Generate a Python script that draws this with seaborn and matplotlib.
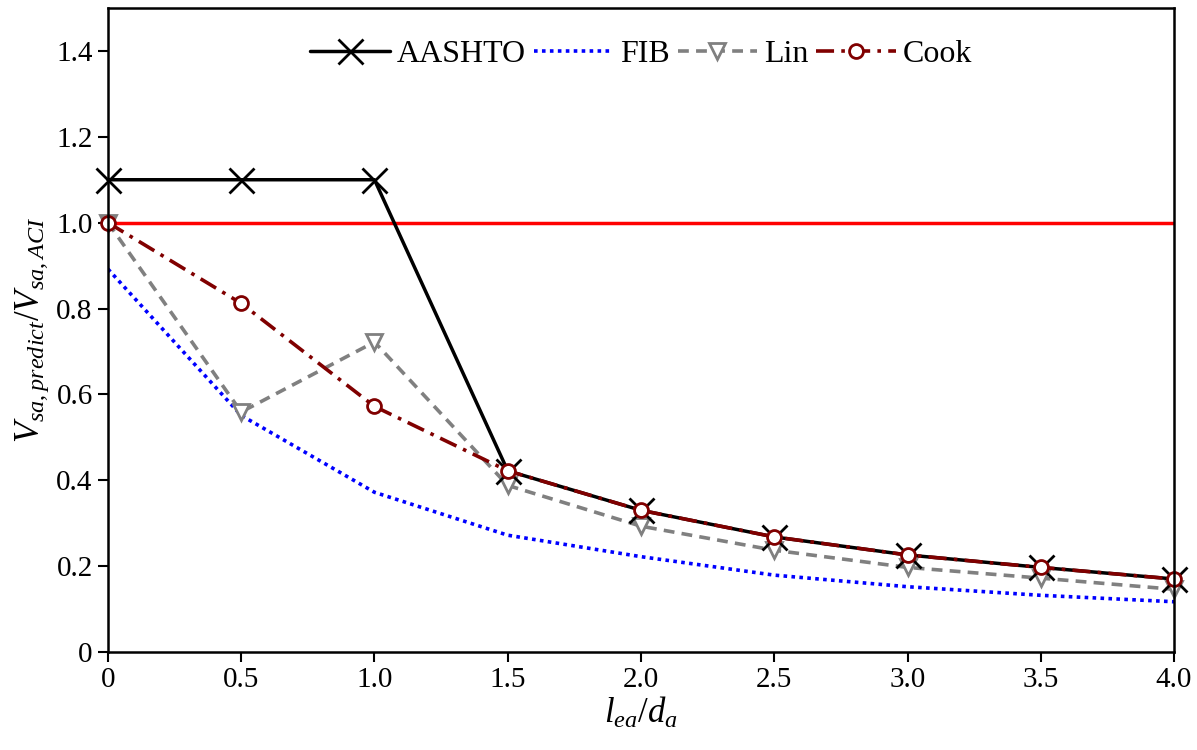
import matplotlib
matplotlib.use("Agg")
import matplotlib.pyplot as plt
import seaborn as sns
import numpy as np

ratio = [0, 0.5, 1.0, 1.5, 2.0, 2.5, 3.0, 3.5, 4.0]
aashto = [1.10, 1.10, 1.10, 0.422, 0.330, 0.268, 0.226, 0.197, 0.170]
fib = [0.892, 0.551, 0.372, 0.272, 0.222, 0.179, 0.152, 0.132, 0.117]
lin = [1.00, 0.559, 0.722, 0.388, 0.293, 0.237, 0.197, 0.172, 0.146]
cook = [1.00, 0.812, 0.572, 0.422, 0.330, 0.268, 0.226, 0.197, 0.170]
xticks = [0, 0.5, 1.0, 1.5, 2.0, 2.5, 3.0, 3.5, 4.0]
xticklabels = ["0", "0.5", "1.0", "1.5", "2.0", "2.5", "3.0", "3.5", "4.0"]
yticks = [0, 0.2, 0.4, 0.6, 0.8, 1.0, 1.2, 1.4]
yticklabels = ["0", "0.2", "0.4", "0.6", "0.8", "1.0", "1.2", "1.4"]

sns.set_theme(style="white")
plt.rcParams["font.family"] = ["Liberation Serif", "DejaVu Serif"]
plt.rcParams["mathtext.fontset"] = "custom"
plt.rcParams["mathtext.it"] = "Liberation Serif:italic"
plt.rcParams["mathtext.rm"] = "Liberation Serif"
plt.rcParams["mathtext.cal"] = "Liberation Serif:italic"
plt.rcParams["text.color"] = "black"
plt.rcParams["axes.labelcolor"] = "black"

fig = plt.figure(figsize=(11.97, 7.5), dpi=100)
ax = fig.add_axes([0.0902, 0.1307, 0.8906, 0.8586])

ax.axhline(1.0, color="#ff0000", lw=2.5, zorder=1)

sns.lineplot(x=ratio, y=fib, ax=ax, color="#0000ff", lw=2.6, linestyle=(0, (1, 1.2)),
             label="FIB", zorder=2)
sns.lineplot(x=ratio, y=lin, ax=ax, color="#808080", lw=2.6, linestyle=(0, (3, 2)),
             marker="v", markersize=11, markerfacecolor="white", markeredgecolor="#808080",
             markeredgewidth=2, label="Lin", zorder=3, clip_on=False)
sns.lineplot(x=ratio, y=aashto, ax=ax, color="black", lw=2.5, linestyle="-",
             marker="x", markersize=18, markeredgewidth=2, markeredgecolor="black",
             label="AASHTO", zorder=4, clip_on=False)
sns.lineplot(x=ratio, y=cook, ax=ax, color="#800000", lw=2.6, linestyle=(0, (5, 2, 1, 2)),
             marker="o", markersize=10, markerfacecolor="white", markeredgecolor="#800000",
             markeredgewidth=2, label="Cook", zorder=5, clip_on=False)

ax.set_xlim(0, 4.0)
ax.set_ylim(0, 1.5)
ax.set_xticks(xticks)
ax.set_xticklabels(xticklabels)
ax.set_yticks(yticks)
ax.set_yticklabels(yticklabels)
ax.tick_params(axis="both", which="both", direction="out", length=7, width=1.5,
               labelsize=21, colors="black", bottom=True, left=True, top=False, right=False, pad=4)
for s in ax.spines.values():
    s.set_color("black")
    s.set_linewidth(1.8)
    s.set_zorder(6)

ax.set_xlabel(r"$l_{ea}/d_{a}$", fontsize=25, labelpad=2)
ax.set_ylabel(r"$V_{sa,predict}/V_{sa,ACI}$", fontsize=25, labelpad=4)

handles, labels = ax.get_legend_handles_labels()
order = [labels.index(n) for n in ["AASHTO", "FIB", "Lin", "Cook"]]
leg = ax.legend([handles[i] for i in order], [labels[i] for i in order],
                loc="upper center", bbox_to_anchor=(0.5, 0.995), ncol=4, frameon=False,
                fontsize=23, handlelength=2.5, handletextpad=0.2, columnspacing=0.25)
for t in leg.get_texts():
    t.set_color("black")

fig.savefig("out.png", dpi=100)
